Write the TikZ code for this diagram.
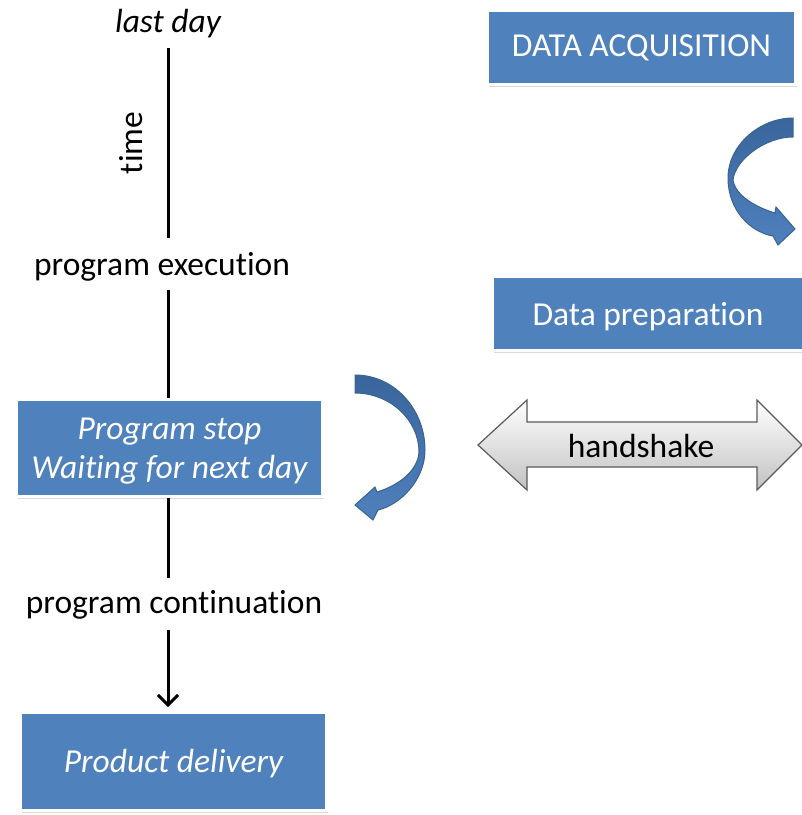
\documentclass[tikz,border=0pt]{standalone}
\usepackage{fontspec}
\setmainfont{Carlito}[Ligatures=NoCommon]
\usetikzlibrary{arrows.meta,shadows}
\definecolor{boxblue}{HTML}{4F81BD}
\definecolor{arrowblue}{HTML}{4F81BD}
\definecolor{arrowdark}{HTML}{3A659C}
\definecolor{arrowline}{HTML}{3B6295}
\definecolor{hsline}{HTML}{5A5A5A}
\begin{document}
\begin{tikzpicture}[x=1pt,y=-1pt,
 lbl/.style={font=\fontsize{33.5}{39}\selectfont, text height=23pt, text depth=7pt, inner sep=0pt, anchor=base},
 bluebox/.style={rectangle, fill=boxblue, draw=white, line width=3pt, text=white, font=\fontsize{33.5}{39}\selectfont, align=center, inner sep=0pt, drop shadow={shadow xshift=1.5pt, shadow yshift=-2.5pt, opacity=0.3}},
 tline/.style={line width=3pt, black},
 curvy/.style={top color=arrowdark, bottom color=arrowblue, draw=arrowline, line width=1pt},
 hsk/.style={top color=white, bottom color=black!24, draw=hsline, line width=1.2pt},
]
\useasboundingbox (0,0) rectangle (802,815);

% curved arrows
\draw[curvy] (793,118) .. controls (760,118) and (728,145) .. (728,178)
  .. controls (728,210) and (750,232) .. (773,236) -- (778,245) -- (795,229) -- (776,207) -- (775,213)
  .. controls (755,207) and (735,195) .. (733,180)
  .. controls (735,160) and (765,137) .. (793,137) -- cycle;
\draw[curvy] (355,375) .. controls (395,375) and (425,410) .. (425,450)
  .. controls (425,480) and (400,505) .. (378,510) -- (373,520) -- (355,505) -- (375,487) -- (377,492)
  .. controls (400,485) and (418,470) .. (419,452)
  .. controls (419,420) and (390,393) .. (355,393) -- cycle;

% handshake double arrow
\draw[hsk] (478,445) -- (527,400) -- (527,422) -- (757,422) -- (757,400) -- (802,445)
  -- (757,490) -- (757,467) -- (527,467) -- (527,490) -- cycle;
\node[lbl] (hs) at (641,457) {handshake};

% text labels
\node[lbl] (lastday) at (168,32) {\itshape last day};
\node[lbl, rotate=90, anchor=center] (time) at (134,143) {time};
\node[lbl] (progexec) at (162,275) {program execution};
\node[lbl] (progcont) at (174,613) {program continuation};

% boxes
\node[bluebox, minimum width=306pt, minimum height=97pt, text height=60pt, text depth=0pt] (stop) at (169.5,448) {\itshape Program stop\\\itshape Waiting for next day};
\node[bluebox, minimum width=306pt, minimum height=98pt, text height=21pt, text depth=0pt] (delivery) at (173.5,761.5) {\itshape Product delivery};
\node[bluebox, minimum width=308pt, minimum height=74pt, text height=17pt, text depth=0pt] (acq) at (641.5,47.5) {DATA ACQUISITION};
\node[bluebox, minimum width=311pt, minimum height=74pt, text height=23pt, text depth=0pt] (prep) at (648,313.5) {Data preparation};

% time line connectors
\draw[tline, shorten <=9pt, shorten >=14pt] (lastday.south) -- (lastday.south |- progexec.north);
\draw[tline, shorten <=8pt] (lastday.south |- progexec.south) -- (lastday.south |- stop.north);
\draw[tline, shorten >=12pt] (lastday.south |- stop.south) -- (lastday.south |- progcont.north);
\draw[tline, -{Straight Barb[length=10pt,width=20pt]}, shorten <=10pt, shorten >=4pt] (lastday.south |- progcont.south) -- (lastday.south |- delivery.north);
\end{tikzpicture}
\end{document}
